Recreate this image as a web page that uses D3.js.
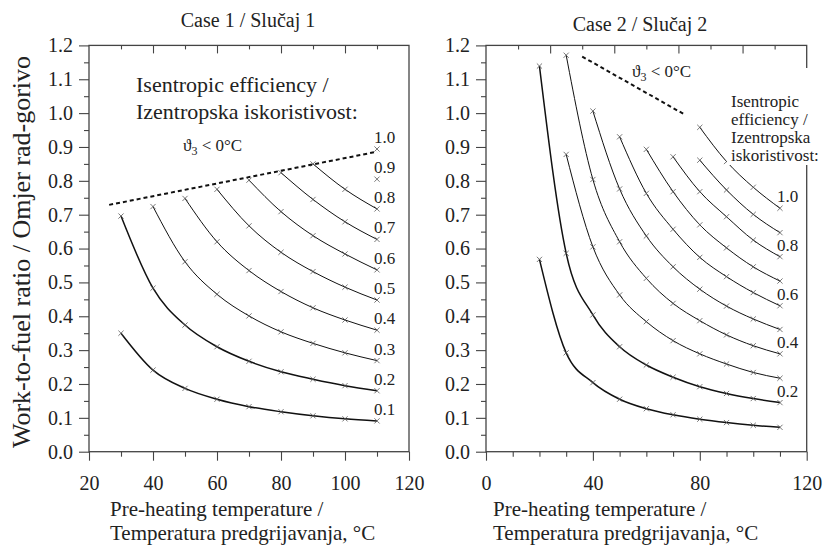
<!DOCTYPE html>
<html>
<head>
<meta charset="utf-8">
<script src="https://cdn.jsdelivr.net/npm/d3@7"></script>
<style>
body { margin: 0; background: #fff; }
svg { font-family: "Liberation Serif", "Times New Roman", serif; }
</style>
</head>
<body>
<div id="chart"></div>
<script>
// pre-heating temperatures where the curves were computed
var tempGrid = [20, 30, 40, 50, 60, 70, 80, 90, 100, 110]

// case 1: first temperature of each curve + work-to-fuel values
var case1Start = [30, 30, 40, 50, 60, 70, 80, 90, 110, 110]
var case1Values = [
  [0.350, 0.241, 0.187, 0.155, 0.133, 0.118, 0.106, 0.097, 0.091],
  [0.696, 0.483, 0.374, 0.310, 0.267, 0.236, 0.214, 0.195, 0.180],
  [0.724, 0.561, 0.465, 0.401, 0.354, 0.320, 0.292, 0.269],
  [0.748, 0.620, 0.535, 0.473, 0.425, 0.389, 0.359],
  [0.775, 0.667, 0.589, 0.532, 0.486, 0.448],
  [0.802, 0.709, 0.638, 0.584, 0.537],
  [0.824, 0.745, 0.679, 0.627],
  [0.850, 0.775, 0.717],
  [0.805],
  [0.894]
]
var case1Labels = ["0.1", "0.2", "0.3", "0.4", "0.5", "0.6", "0.7", "0.8", "0.9", "1.0"]
var case1Boundary = [[26.3, 0.729], [110, 0.886]]

// case 2
var case2Start = [20, 20, 30, 30, 40, 50, 60, 70, 80, 80]
var case2Values = [
  [0.568, 0.292, 0.204, 0.155, 0.127, 0.109, 0.096, 0.086, 0.078, 0.072],
  [1.139, 0.586, 0.404, 0.310, 0.256, 0.220, 0.192, 0.172, 0.157, 0.145],
  [0.878, 0.605, 0.463, 0.384, 0.328, 0.289, 0.259, 0.234, 0.217],
  [1.171, 0.804, 0.620, 0.512, 0.438, 0.387, 0.345, 0.313, 0.289],
  [1.006, 0.776, 0.637, 0.546, 0.480, 0.430, 0.392, 0.361],
  [0.930, 0.763, 0.657, 0.574, 0.517, 0.470, 0.431],
  [0.893, 0.768, 0.670, 0.602, 0.546, 0.504],
  [0.871, 0.768, 0.694, 0.625, 0.576],
  [0.861, 0.773, 0.701, 0.647],
  [0.958, 0.857, 0.781, 0.719]
]
var case2Labels = ["", "0.2", "", "0.4", "", "0.6", "", "0.8", "", "1.0"]
var case2Boundary = [[36, 1.167], [74.5, 0.995]]

var yTicks = [0.0, 0.1, 0.2, 0.3, 0.4, 0.5, 0.6, 0.7, 0.8, 0.9, 1.0, 1.1, 1.2]
var yMinorTicks = [0.05, 0.15, 0.25, 0.35, 0.45, 0.55, 0.65, 0.75, 0.85, 0.95, 1.05, 1.15]
var case1XTicks = [20, 40, 60, 80, 100, 120]
var case1XMinor = [30, 50, 70, 90, 110]
var case2XTicks = [0, 40, 80, 120]
var case2XMinor = [10, 20, 30, 50, 60, 70, 90, 100, 110]
var topTicks = [40, 60, 80, 100]
var topMinor = [30, 50, 70, 90, 110]

var width = 831, height = 546

var svg = d3.select("#chart").append("svg")
    .attr("width", width)
    .attr("height", height)

svg.append("rect").attr("width", width).attr("height", height).attr("fill", "#fff")

var y = d3.scaleLinear().domain([0, 1.2]).range([451.7, 45.4])
var x1 = d3.scaleLinear().domain([20, 120]).range([89, 409])
var x2 = d3.scaleLinear().domain([0, 120]).range([486, 806.7])

function styleAxis(g, fontSize) {
  g.select(".domain").remove()
  g.selectAll(".tick line").attr("stroke", "#444").attr("stroke-width", 1.1)
  g.selectAll(".tick text")
    .attr("fill", "#222")
    .style("font-size", fontSize + "px")
    .style("font-family", "'Liberation Serif', 'Times New Roman', serif")
}

function drawPanel(x, xTicks, xMinor, start, values, labels, boundary) {
  var g = svg.append("g")
  var x0 = x.range()[0], x1r = x.range()[1]
  var xTop = d3.scaleLinear().domain([20, 120]).range(x.range())

  g.append("g").attr("transform", "translate(" + x0 + ",0)")
    .call(d3.axisLeft(y).tickValues(yMinorTicks).tickFormat("").tickSize(5))
    .call(styleAxis, 20)
  g.append("g").attr("transform", "translate(" + x0 + ",0)")
    .call(d3.axisLeft(y).tickValues(yTicks).tickFormat(d3.format(".1f")).tickSize(10).tickPadding(6))
    .call(styleAxis, 20)

  g.append("g").attr("transform", "translate(0," + y(0) + ")")
    .call(d3.axisBottom(x).tickValues(xMinor).tickFormat("").tickSize(5))
    .call(styleAxis, 20)
  g.append("g").attr("transform", "translate(0," + y(0) + ")")
    .call(d3.axisBottom(x).tickValues(xTicks).tickSize(9).tickPadding(15))
    .call(styleAxis, 20)

  g.append("g").attr("transform", "translate(0," + y(1.2) + ")")
    .call(d3.axisTop(xTop).tickValues(topMinor).tickFormat("").tickSize(-4))
    .call(styleAxis, 20)
  g.append("g").attr("transform", "translate(0," + y(1.2) + ")")
    .call(d3.axisTop(xTop).tickValues(topTicks).tickFormat("").tickSize(-8))
    .call(styleAxis, 20)

  g.append("rect")
    .attr("x", x0).attr("y", y(1.2))
    .attr("width", x1r - x0).attr("height", y(0) - y(1.2))
    .attr("fill", "none").attr("stroke", "#444").attr("stroke-width", 1.3)

  var line = d3.line()
    .x(function(d) { return x(d[0]) })
    .y(function(d) { return y(d[1]) })
    .curve(d3.curveMonotoneX)

  values.forEach(function(vals, i) {
    var k = tempGrid.indexOf(start[i])
    var pts = vals.map(function(v, j) { return [tempGrid[k + j], v] })
    if (pts.length > 1) {
      g.append("path").datum(pts)
        .attr("d", line)
        .attr("fill", "none")
        .attr("stroke", "#111")
        .attr("stroke-width", i < 2 ? 1.5 : 1)
    }
    g.selectAll(null).data(pts).enter().append("path")
      .attr("transform", function(d) { return "translate(" + x(d[0]) + "," + y(d[1]) + ")" })
      .attr("d", "M-2.6,-2.6L2.6,2.6M-2.6,2.6L2.6,-2.6")
      .attr("stroke", "#555")
      .attr("stroke-width", 0.8)
    if (labels[i]) {
      var last = pts[pts.length - 1]
      g.append("text")
        .attr("x", x(last[0]) - 3)
        .attr("y", y(last[1]) - 6)
        .style("font-size", "17px")
        .attr("fill", "#222")
        .text(labels[i])
    }
  })

  g.append("path").datum(boundary)
    .attr("d", d3.line().x(function(d) { return x(d[0]) }).y(function(d) { return y(d[1]) }))
    .attr("fill", "none")
    .attr("stroke", "#111")
    .attr("stroke-width", 2)
    .attr("stroke-dasharray", "4,3")
  return g
}

drawPanel(x1, case1XTicks, case1XMinor, case1Start, case1Values, case1Labels, case1Boundary)
drawPanel(x2, case2XTicks, case2XMinor, case2Start, case2Values, case2Labels, case2Boundary)

function theta(x, yy) {
  var t = svg.append("text").attr("x", x).attr("y", yy).style("font-size", "17px").attr("fill", "#222")
  t.append("tspan").text("\u03d1")
  t.append("tspan").attr("dy", 4).style("font-size", "12px").text("3")
  t.append("tspan").attr("dy", -4).text(" < 0\u00b0C")
}
theta(183, 151)
theta(632, 77)

// case 1 legend
svg.append("text").attr("x", 136).attr("y", 92).style("font-size", "22px").attr("fill", "#222")
  .text("Isentropic efficiency /")
svg.append("text").attr("x", 136).attr("y", 119).style("font-size", "22px").attr("fill", "#222")
  .text("Izentropska iskoristivost:")

// case 2 legend sits on a white box over the frame
svg.append("rect").attr("x", 727).attr("y", 68).attr("width", 104).attr("height", 97).attr("fill", "#fff")
var leg2 = ["Isentropic", "efficiency /", "Izentropska", "iskoristivost:"]
svg.selectAll(null).data(leg2).enter().append("text")
  .attr("x", 731)
  .attr("y", function(d, i) { return 107 + i * 18 })
  .style("font-size", "17px")
  .attr("fill", "#222")
  .text(function(d) { return d })

// titles
svg.append("text").attr("x", 248).attr("y", 27).attr("text-anchor", "middle")
  .style("font-size", "20px").attr("fill", "#222").text("Case 1 / Slu\u010daj 1")
svg.append("text").attr("x", 640).attr("y", 31).attr("text-anchor", "middle")
  .style("font-size", "20px").attr("fill", "#222").text("Case 2 / Slu\u010daj 2")

// axis titles
svg.append("text")
  .attr("transform", "translate(30,252) rotate(-90)")
  .attr("text-anchor", "middle")
  .style("font-size", "26px").attr("fill", "#222")
  .text("Work-to-fuel ratio / Omjer rad-gorivo")

var xTitle = ["Pre-heating temperature /", "Temperatura predgrijavanja, \u00b0C"]
;[110, 493].forEach(function(px) {
  svg.selectAll(null).data(xTitle).enter().append("text")
    .attr("x", px)
    .attr("y", function(d, i) { return 516 + i * 24 })
    .style("font-size", "21px").attr("fill", "#222")
    .text(function(d) { return d })
})
</script>
</body>
</html>
